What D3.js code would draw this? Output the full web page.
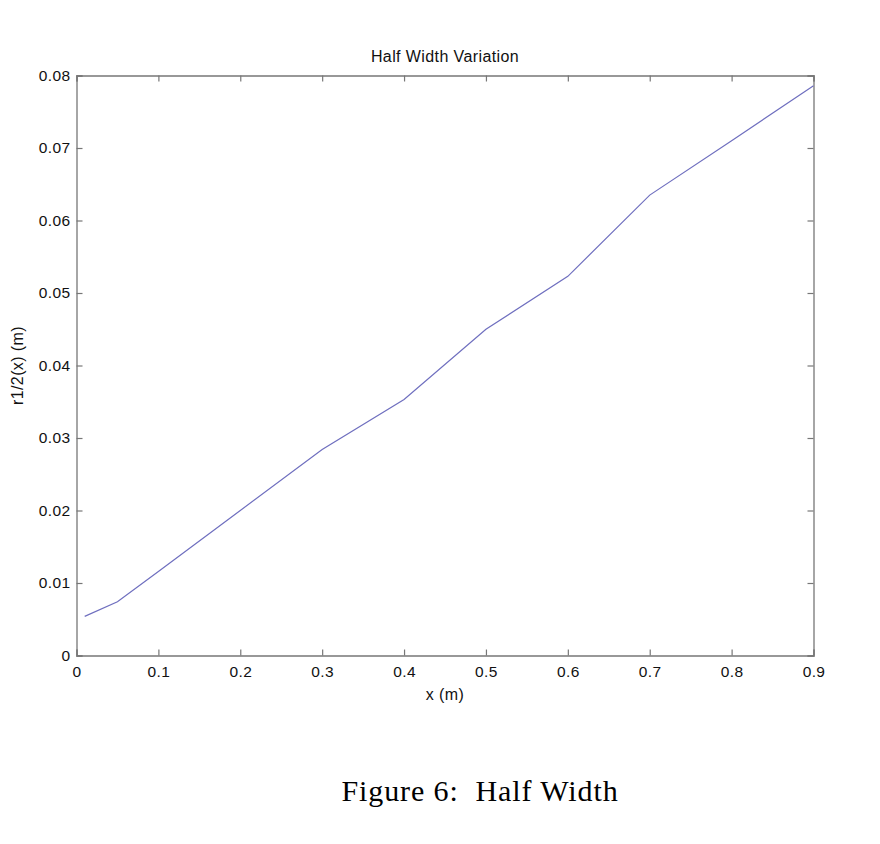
<!DOCTYPE html>
<html>
<head>
<meta charset="utf-8">
<script src="https://cdn.jsdelivr.net/npm/d3@7"></script>
<style>
  body { margin: 0; background: #fff; }
  .tick text { font-family: "Liberation Sans", Arial, sans-serif; font-size: 15.5px; letter-spacing: 0.4px; fill: #111; }
</style>
</head>
<body>
<script>
var svgWidth = 880;
var svgHeight = 844;

var margin = { top: 75.5, right: 66.5, bottom: 188.5, left: 76.5 };
var chartWidth = svgWidth - margin.left - margin.right;
var chartHeight = svgHeight - margin.top - margin.bottom;

// data
var xValues = [0.01, 0.05, 0.1, 0.2, 0.3, 0.4, 0.5, 0.6, 0.7, 0.8, 0.9];
var halfWidth = [0.0054, 0.0074, 0.0116, 0.0200, 0.0284, 0.0353, 0.0450, 0.0523, 0.0635, 0.0710, 0.0786];
var xTicks = [0, 0.1, 0.2, 0.3, 0.4, 0.5, 0.6, 0.7, 0.8, 0.9];
var yTicks = [0, 0.01, 0.02, 0.03, 0.04, 0.05, 0.06, 0.07, 0.08];

var data = xValues.map(function(x, i) { return { x: x, y: halfWidth[i] }; });

var svg = d3.select("body").append("svg")
  .attr("width", svgWidth)
  .attr("height", svgHeight);

var chartGroup = svg.append("g")
  .attr("transform", `translate(${margin.left}, ${margin.top})`);

var xScale = d3.scaleLinear().domain([0, 0.9]).range([0, chartWidth]);
var yScale = d3.scaleLinear().domain([0, 0.08]).range([chartHeight, 0]);

var axisColor = "#777";

// bottom / left axes with labels, ticks pointing inward
var xAxis = chartGroup.append("g")
  .attr("transform", "translate(0," + chartHeight + ")")
  .call(d3.axisBottom(xScale).tickValues(xTicks).tickSize(-6).tickPadding(10)
    .tickFormat(function(d) { return d === 0 ? "0" : d3.format(".1f")(d); }));

var yAxis = chartGroup.append("g")
  .call(d3.axisLeft(yScale).tickValues(yTicks).tickSize(-6).tickPadding(6)
    .tickFormat(function(d) { return d === 0 ? "0" : d3.format(".2f")(d); }));

// top / right mirror ticks
var xTop = chartGroup.append("g")
  .call(d3.axisTop(xScale).tickValues(xTicks).tickSize(-6).tickFormat(""));

var yRight = chartGroup.append("g")
  .attr("transform", "translate(" + chartWidth + ",0)")
  .call(d3.axisRight(yScale).tickValues(yTicks).tickSize(-6).tickFormat(""));

[xAxis, yAxis, xTop, yRight].forEach(function(g) {
  g.select(".domain").attr("stroke", axisColor).attr("stroke-width", 1.3);
  g.selectAll(".tick line").attr("stroke", axisColor).attr("stroke-width", 1.2);
});

// line
var line = d3.line()
  .x(function(d) { return xScale(d.x); })
  .y(function(d) { return yScale(d.y); });

chartGroup.append("path")
  .datum(data)
  .attr("fill", "none")
  .attr("stroke", "#6f6fbf")
  .attr("stroke-width", 1.2)
  .attr("d", line);

// title and axis labels
svg.append("text")
  .attr("x", margin.left + chartWidth / 2)
  .attr("y", 62)
  .attr("text-anchor", "middle")
  .style("font-family", "Liberation Sans, Arial, sans-serif")
  .style("font-size", "16px")
  .style("letter-spacing", "0.4px")
  .style("fill", "#111")
  .text("Half Width Variation");

svg.append("text")
  .attr("x", margin.left + chartWidth / 2)
  .attr("y", 700)
  .attr("text-anchor", "middle")
  .style("font-family", "Liberation Sans, Arial, sans-serif")
  .style("font-size", "16px")
  .style("letter-spacing", "0.4px")
  .style("fill", "#111")
  .text("x (m)");

svg.append("text")
  .attr("transform", "translate(23," + (margin.top + chartHeight / 2) + ") rotate(-90)")
  .attr("text-anchor", "middle")
  .style("font-family", "Liberation Sans, Arial, sans-serif")
  .style("font-size", "16px")
  .style("letter-spacing", "0.4px")
  .style("fill", "#111")
  .text("r1/2(x) (m)");

// figure caption
svg.append("text")
  .attr("x", 480)
  .attr("y", 801)
  .attr("text-anchor", "middle")
  .style("font-family", "Liberation Serif, 'DejaVu Serif', serif")
  .style("font-size", "30px")
  .style("letter-spacing", "0.9px")
  .style("fill", "#000")
  .text("Figure 6:\u00a0 Half Width");
</script>
</body>
</html>
